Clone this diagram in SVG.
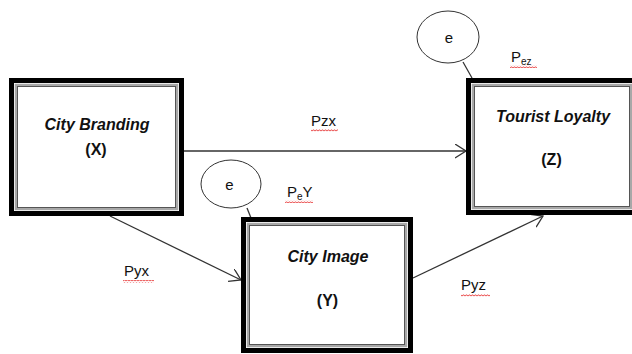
<svg xmlns="http://www.w3.org/2000/svg" width="632" height="354" viewBox="0 0 632 354">
<style>
.outer{fill:#fff;stroke:#000;stroke-width:5}
.mid{fill:none;stroke:#a8a8a8;stroke-width:2.5}
.inner{fill:none;stroke:#555;stroke-width:1}
.title{font-family:"Liberation Sans",Arial,sans-serif;font-size:16px;font-weight:bold;font-style:italic;fill:#111;text-anchor:middle}
.var{font-family:"Liberation Sans",Arial,sans-serif;font-size:16px;font-weight:bold;fill:#111;text-anchor:middle}
.lbl{font-family:"Liberation Sans",Arial,sans-serif;font-size:15px;fill:#111}
.sub{font-size:10px}
.conn{stroke:#333;stroke-width:1.3;fill:none}
.err{fill:none;stroke:#333;stroke-width:1}
.sq{fill:url(#wave)}
</style>
<defs>
<marker id="arr" markerUnits="userSpaceOnUse" markerWidth="14" markerHeight="16" refX="11" refY="7" orient="auto" viewBox="0 0 14 16">
<path d="M0,0 L11,7 L0,14" fill="none" stroke="#333" stroke-width="1.3"/>
</marker>
<pattern id="wave" width="3" height="3" patternUnits="userSpaceOnUse">
<path d="M0,2.3 L1.5,0.7 L3,2.3" fill="none" stroke="#e00000" stroke-width="0.8"/>
</pattern>
</defs>

<g id="connectors">
<line class="conn" x1="184" y1="151" x2="466" y2="151" marker-end="url(#arr)"/>
<line class="conn" x1="110" y1="216" x2="241" y2="280" marker-end="url(#arr)"/>
<line class="conn" x1="413" y1="278" x2="543" y2="216" marker-end="url(#arr)"/>
<line class="conn" x1="247" y1="208" x2="251" y2="218"/>
<line class="conn" x1="463" y1="62" x2="472" y2="78"/>
</g>

<g id="nodeX">
<rect class="outer" x="11.5" y="80.5" width="170" height="133"/>
<rect class="mid" x="16" y="85" width="161" height="124"/>
<rect class="inner" x="17.5" y="86.5" width="158" height="121"/>
<text class="title" x="97" y="130">City Branding</text>
<text class="var" x="96" y="155">(X)</text>
</g>

<g id="nodeY">
<rect class="outer" x="243.5" y="219.5" width="167" height="131"/>
<rect class="mid" x="248" y="224" width="158" height="122"/>
<rect class="inner" x="249.5" y="225.5" width="155" height="119"/>
<text class="title" x="328" y="262">City Image</text>
<text class="var" x="327.5" y="306">(Y)</text>
</g>

<g id="nodeZ">
<rect class="outer" x="468.5" y="80.5" width="167" height="132"/>
<rect class="mid" x="473" y="85" width="158" height="123"/>
<rect class="inner" x="474.5" y="86.5" width="155" height="120"/>
<text class="title" x="553" y="122">Tourist Loyalty</text>
<text class="var" x="551.5" y="165">(Z)</text>
</g>

<g id="errorY">
<ellipse class="err" cx="231" cy="184" rx="30" ry="24"/>
<text class="lbl" x="229.5" y="190" text-anchor="middle">e</text>
</g>

<g id="errorZ">
<ellipse class="err" cx="448" cy="37" rx="31" ry="26"/>
<text class="lbl" x="449" y="43" text-anchor="middle">e</text>
</g>

<g id="labels">
<text class="lbl" x="311" y="126">Pzx</text>
<text class="lbl" x="124" y="276">Pyx</text>
<text class="lbl" x="461" y="290">Pyz</text>
<text class="lbl" x="287" y="197">P<tspan class="sub" dy="3">e</tspan><tspan dy="-3">Y</tspan></text>
<text class="lbl" x="511" y="62">P<tspan class="sub" dy="3">ez</tspan></text>
</g>

<g id="spellcheck">
<rect class="sq" x="311" y="129" width="27" height="3"/>
<rect class="sq" x="123" y="280" width="31" height="3"/>
<rect class="sq" x="461" y="294" width="29" height="3"/>
<rect class="sq" x="285" y="200" width="28" height="3"/>
<rect class="sq" x="510" y="65" width="27" height="3"/>
</g>
</svg>
